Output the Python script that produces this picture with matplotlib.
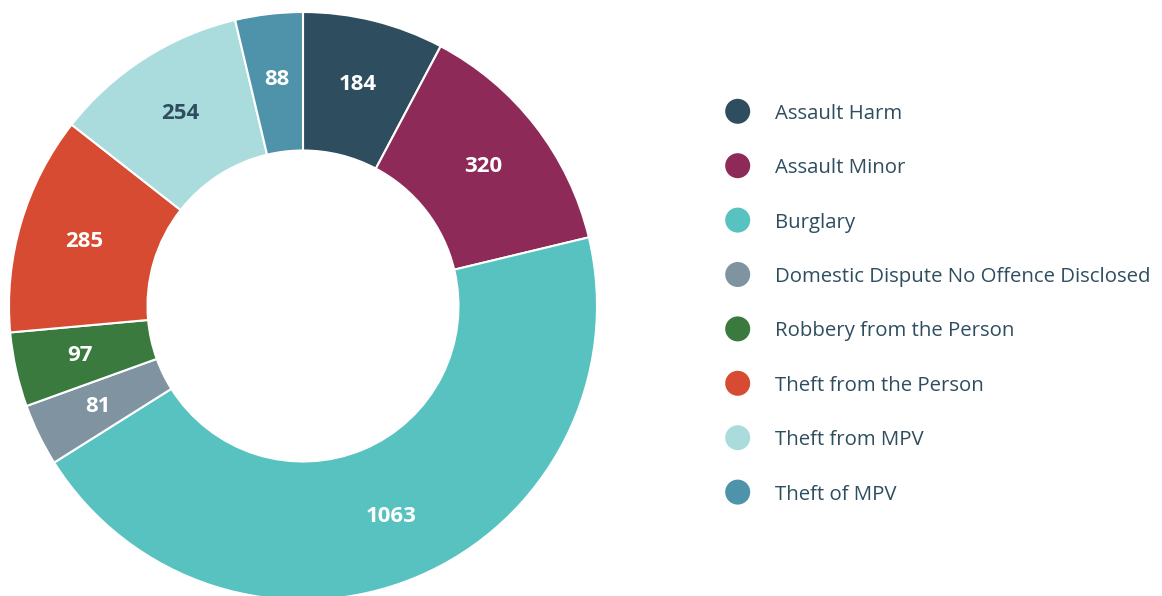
import matplotlib
matplotlib.use("Agg")
import matplotlib.pyplot as plt
import numpy as np

categories = ["Assault Harm", "Assault Minor", "Burglary",
              "Domestic Dispute No Offence Disclosed", "Robbery from the Person",
              "Theft from the Person", "Theft from MPV", "Theft of MPV"]
values = [184, 320, 1063, 81, 97, 285, 254, 88]
colors = ["#2e4e5f", "#8e2a57", "#58c2c0", "#7f93a0", "#3a7a3e",
          "#d64b32", "#aadcdd", "#4f93aa"]
label_colors = ["white", "white", "white", "white", "white",
                "white", "#2e4e5f", "white"]

plt.rcParams['font.family'] = ['Open Sans', 'DejaVu Sans']

W, H = 1162, 596
fig = plt.figure(figsize=(W / 100, H / 100), dpi=100)
cx, cy, R = 303, 306, 294
ax = fig.add_axes([(cx - R) / W, (H - cy - R) / H, 2 * R / W, 2 * R / H])
inner = 155.5 / 294
wedges, _ = ax.pie(values, colors=colors, startangle=90, counterclock=False,
                   radius=1.0,
                   wedgeprops=dict(width=1 - inner, edgecolor="white", linewidth=1.5))
ax.set_xlim(-1, 1)
ax.set_ylim(-1, 1)
ax.set_aspect("equal")
ax.axis("off")

rlab = 228 / 294
for w, v, lc in zip(wedges, values, label_colors):
    ang = np.deg2rad((w.theta1 + w.theta2) / 2)
    ax.text(rlab * np.cos(ang), rlab * np.sin(ang), str(v), ha="center", va="center",
            fontsize=16, fontweight="bold", color=lc)

# legend
lx_marker, lx_text = 737.7, 775
y0, dy = 111.3, 54.4
for i, (c, name) in enumerate(zip(colors, categories)):
    y = H - (y0 + i * dy)
    fig.add_artist(matplotlib.patches.Ellipse((lx_marker / W, y / H), 25 / W, 25 / H,
                                              transform=fig.transFigure, color=c,
                                              lw=0))
    fig.text(lx_text / W, (y - 7.5) / H, name, ha="left", va="baseline", fontsize=14.7,
             color="#2e4e5f")

fig.savefig("out.png", dpi=100)
